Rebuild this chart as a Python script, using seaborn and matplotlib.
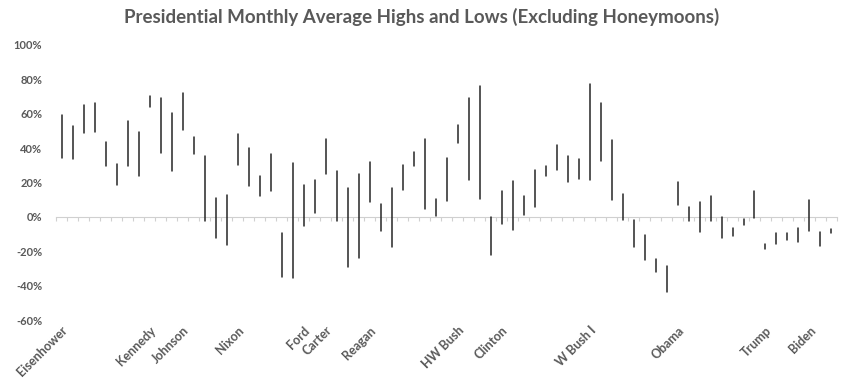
import numpy as np
import pandas as pd
import matplotlib
matplotlib.use("Agg")
import matplotlib.pyplot as plt
import seaborn as sns

# one bar per year (1953-2023), high and low of the monthly averages (%)
years = list(range(1953, 2024))
highs = [59.3, 53.1, 64.9, 66.1, 43.6, 30.6, 55.6, 49.4, 70.2, 69.0, 60.3, 71.9,
         46.3, 35.3, 10.9, 12.6, 48.1, 39.9, 23.7, 36.4, -9.5, 31.2, 18.4,
         21.3, 45.2, 26.6, 16.9, 24.8, 31.8, 7.4, 16.9, 30.0, 37.6, 45.2, 10.3,
         34.1, 53.3, 69.0, 76.0, -0.2, 14.9, 20.8, 12.0, 27.2, 29.5, 41.7, 35.3,
         33.5, 77.1, 66.1, 44.6, 13.2, -1.9, -10.6, -24.6, -28.7, 20.2, 5.6, 8.5,
         12.0, -0.2, -6.6, -1.3, 14.9, -15.9, -9.5, -9.5, -6.6, 9.7, -8.9, -7.2]
lows = [34.5, 33.9, 48.6, 49.2, 29.8, 18.4, 29.8, 23.7, 63.8, 37.0, 26.6, 50.8,
        36.6, -2.5, -12.4, -16.5, 30.4, 18.2, 12.4, 14.9, -35.1, -35.6, -5.2,
        2.5, 25.2, -2.5, -29.3, -24.0, 8.5, -8.5, -17.3, 15.5, 29.8, 4.3, 0.6,
        9.1, 42.8, 21.3, 10.3, -22.3, -4.2, -7.7, 1.0, 5.6, 23.7, 27.2, 20.2,
        21.9, 21.3, 32.4, 9.7, -1.9, -17.6, -25.2, -32.2, -43.8, 6.8, -2.5, -8.9,
        -2.5, -12.4, -11.2, -4.8, -0.8, -18.8, -15.9, -13.5, -14.7, -8.3, -17.0, -9.5]

presidents = ["Eisenhower", "Kennedy", "Johnson", "Nixon", "Ford", "Carter", "Reagan",
              "HW Bush", "Clinton", "W Bush I", "Obama", "Trump", "Biden"]
label_years = [1953, 1961, 1964, 1969, 1975, 1977, 1981, 1989, 1993, 2001, 2009, 2017, 2021]

TEXT = "#595959"
FONT = ["Lato", "DejaVu Sans"]

pos = np.arange(len(years))
df = pd.concat([
    pd.DataFrame({"pos": pos, "year": years, "value": highs}),
    pd.DataFrame({"pos": pos, "year": years, "value": lows}),
])

sns.set_theme(style="white")
plt.rcParams["font.family"] = FONT

fig = plt.figure(figsize=(8.44, 3.81), dpi=100)
ax = fig.add_axes([0.0664, 0.160, 0.9253, 0.722])

sns.lineplot(data=df, x="pos", y="value", units="pos", estimator=None,
             color="#262626", linewidth=1.1, ax=ax, legend=False, zorder=3)

ax.set_xlim(-0.5, len(years) - 0.5)
ax.set_ylim(-60, 100)
for s in ax.spines.values():
    s.set_visible(False)

yt = np.arange(-60, 101, 20)
ax.set_yticks(yt)
ax.set_yticklabels([f"{v}%" for v in yt], fontsize=8, fontweight="bold", color=TEXT)
ax.tick_params(axis="y", length=0, pad=10)

ax.set_xticks([years.index(y) for y in label_years])
ax.set_xticklabels(presidents, rotation=45, ha="right", rotation_mode="anchor",
                   fontsize=9, fontweight="bold", color=TEXT)
ax.tick_params(axis="x", length=0, pad=3)
ax.set_xlabel("")
ax.set_ylabel("")

# zero line with category tick marks
sec = ax.secondary_xaxis(0, transform=ax.transData)
sec.set_xticks(np.arange(-0.5, len(years), 1))
sec.set_xticklabels([])
sec.tick_params(axis="x", direction="out", length=3, width=0.8, color="#d0d0d0")
sec.spines["bottom"].set_color("#d0d0d0")
sec.spines["bottom"].set_linewidth(0.8)

fig.suptitle("Presidential Monthly Average Highs and Lows (Excluding Honeymoons)",
             x=0.5, y=0.98, fontsize=13.5, fontweight="bold", color=TEXT)

fig.savefig("out.png", dpi=100)
